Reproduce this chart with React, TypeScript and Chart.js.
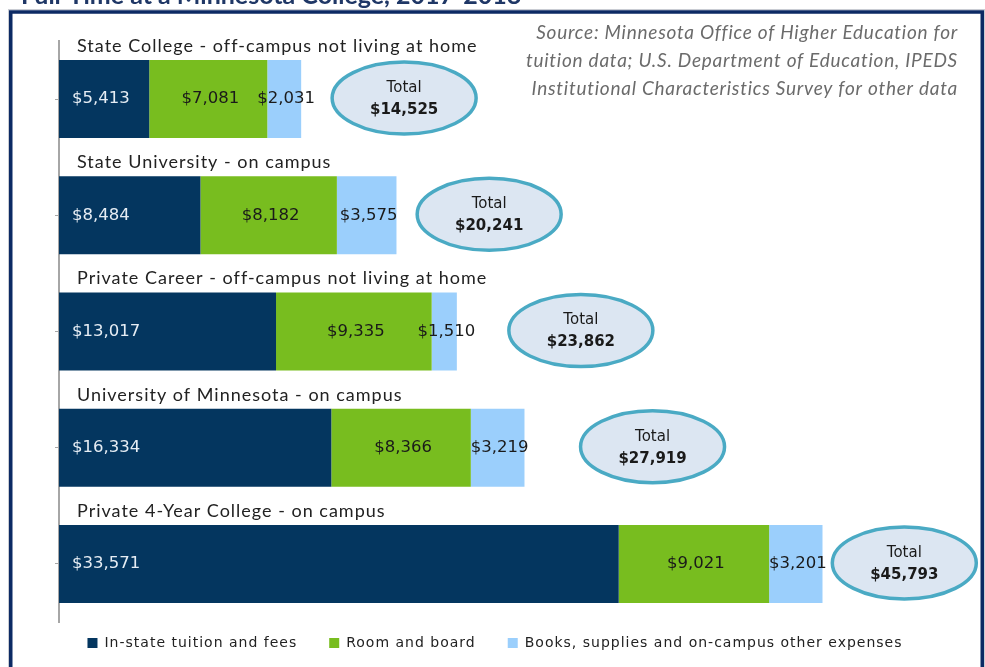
import React, { useEffect, useRef } from "react";
import { Chart, registerables } from "chart.js";

Chart.register(...registerables);

const titleText = "Full-Time at a Minnesota College, 2017-2018";

const categories = [
  "State College - off-campus not living at home",
  "State University - on campus",
  "Private Career - off-campus not living at home",
  "University of Minnesota - on campus",
  "Private 4-Year College - on campus",
];

const seriesNames = [
  "In-state tuition and fees",
  "Room and board",
  "Books, supplies and on-campus other expenses",
];

const tuition = [5413, 8484, 13017, 16334, 33571];
const roomBoard = [7081, 8182, 9335, 8366, 9021];
const books = [2031, 3575, 1510, 3219, 3201];

const sourceLines = [
  "Source: Minnesota Office of Higher Education for",
  "tuition data; U.S. Department of Education, IPEDS",
  "Institutional Characteristics Survey for other data",
];

const COLORS = ["#04365f", "#78bd1f", "#9bcffc"];

const fmt = (v: number) => "$" + v.toLocaleString("en-US");

const decorPlugin = {
  id: "decor",
  beforeDraw(chart: any) {
    const ctx = chart.ctx as CanvasRenderingContext2D;
    ctx.save();
    // outer frame
    ctx.strokeStyle = "#c9ccd3";
    ctx.lineWidth = 1;
    ctx.strokeRect(8.5, 9.5, 976, 720);
    ctx.strokeStyle = "#0c2a64";
    ctx.lineWidth = 3.5;
    ctx.strokeRect(10.75, 12, 971.5, 720);
    // cut-off title
    ctx.fillStyle = "#1f3766";
    ctx.font = "bold 25px Lato";
    ctx.textAlign = "left";
    ctx.textBaseline = "alphabetic";
    ctx.fillText(titleText, 21, 4);
    // source note
    ctx.font = "italic 19px Lato";
    (ctx as any).letterSpacing = "0.75px";
    ctx.fillStyle = "#6b6b6b";
    ctx.textAlign = "right";
    ctx.textBaseline = "middle";
    sourceLines.forEach((l, i) => ctx.fillText(l, 958, 33 + 28 * i));
    (ctx as any).letterSpacing = "0px";
    ctx.restore();
  },
  afterDatasetsDraw(chart: any, _args: any, opts: any) {
    const ctx = chart.ctx as CanvasRenderingContext2D;
    const xScale = chart.scales.x;
    const area = chart.chartArea;
    ctx.save();
    const metas = chart.data.datasets.map((_: any, i: number) => chart.getDatasetMeta(i));
    const n = chart.data.labels.length;
    for (let i = 0; i < n; i++) {
      const b0 = metas[0].data[i].getProps(["x", "y", "base", "height"], true);
      // category title above bar
      ctx.font = "18px Lato";
      (ctx as any).letterSpacing = "1px";
      ctx.fillStyle = "#222222";
      ctx.textAlign = "left";
      ctx.textBaseline = "middle";
      ctx.fillText(chart.data.labels[i], area.left + 18, b0.y - b0.height / 2 - 14);
      (ctx as any).letterSpacing = "0px";

      // value labels
      ctx.font = "16.5px 'DejaVu Sans'";
      metas.forEach((m: any, d: number) => {
        const p = m.data[i].getProps(["x", "y", "base", "height"], true);
        const v = chart.data.datasets[d].data[i];
        if (d === 0) {
          ctx.fillStyle = "#e6edf4";
          ctx.textAlign = "left";
          ctx.fillText(fmt(v), Math.min(p.base, p.x) + 13, p.y);
        } else {
          ctx.fillStyle = "#1a1a1a";
          ctx.textAlign = "center";
          ctx.fillText(fmt(v), (p.base + p.x) / 2 + 2, p.y);
        }
      });

      // total bubble
      const total = chart.data.datasets.reduce((s: number, ds: any) => s + ds.data[i], 0);
      const cx = xScale.getPixelForValue(opts.centers[i]);
      const cy = b0.y - 1;
      ctx.beginPath();
      ctx.ellipse(cx, cy, 72, 36, 0, 0, Math.PI * 2);
      ctx.fillStyle = "#dce6f2";
      ctx.fill();
      ctx.lineWidth = 3.5;
      ctx.strokeStyle = "#4aaac4";
      ctx.stroke();
      ctx.fillStyle = "#1a1a1a";
      ctx.textAlign = "center";
      ctx.font = "15px 'DejaVu Sans'";
      ctx.fillText("Total", cx, cy - 10);
      ctx.font = "bold 15px 'DejaVu Sans'";
      ctx.fillText(fmt(total), cx, cy + 12);
    }

    // legend
    ctx.font = "14px 'DejaVu Sans'";
    (ctx as any).letterSpacing = "1px";
    const box = 10;
    const gapBox = 7;
    const gapItem = 32;
    const widths = chart.data.datasets.map(
      (ds: any) => box + gapBox + ctx.measureText(ds.label).width
    );
    const totalW = widths.reduce((a: number, b: number) => a + b, 0) + gapItem * (widths.length - 1);
    let x = 495 - totalW / 2;
    const ly = 643;
    chart.data.datasets.forEach((ds: any, d: number) => {
      ctx.fillStyle = ds.backgroundColor;
      ctx.fillRect(x, ly - 5, box, box);
      ctx.fillStyle = "#222222";
      ctx.textAlign = "left";
      ctx.textBaseline = "middle";
      ctx.fillText(ds.label, x + box + gapBox, ly);
      x += widths[d] + gapItem;
    });
    (ctx as any).letterSpacing = "0px";
    ctx.restore();
  },
};

export default function App() {
  const ref = useRef<HTMLCanvasElement | null>(null);
  useEffect(() => {
    if (!ref.current) return;
    const values = [tuition, roomBoard, books];
    const chart = new Chart(ref.current, {
      type: "bar",
      data: {
        labels: categories,
        datasets: values.map((v, i) => ({
          label: seriesNames[i],
          data: v,
          backgroundColor: COLORS[i],
          borderWidth: 0,
          barPercentage: 0.671,
          categoryPercentage: 1,
        })),
      },
      options: {
        indexAxis: "y",
        responsive: false,
        animation: false,
        layout: { padding: { top: 41, bottom: 45, left: 55, right: 9 } },
        scales: {
          x: { stacked: true, display: false, min: 0, max: 55000 },
          y: {
            stacked: true,
            grid: {
              offset: false,
              drawOnChartArea: false,
              tickLength: 4,
              color: "#a6a6a6",
              tickWidth: 1,
            },
            border: { color: "#a6a6a6", width: 2 },
            ticks: { display: false },
          },
        },
        plugins: {
          legend: { display: false },
          tooltip: { enabled: false },
          decor: { centers: [20700, 25800, 31300, 35600, 50700] },
        } as any,
      },
      plugins: [decorPlugin],
    });
    return () => chart.destroy();
  }, []);
  return (
    <div style={{ position: "fixed", left: 0, top: 0, width: 985, height: 667, background: "#fff" }}>
      <canvas ref={ref} width={985} height={667} style={{ display: "block" }} />
    </div>
  );
}
